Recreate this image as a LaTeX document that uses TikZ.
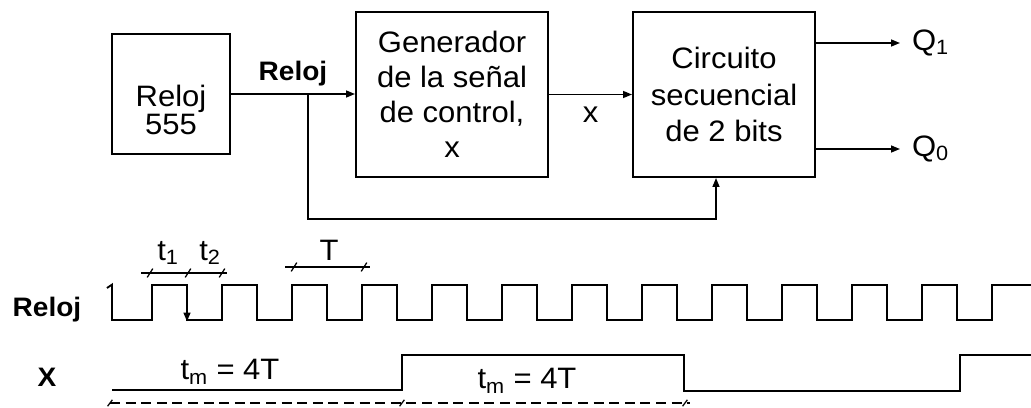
\documentclass[tikz,border=0pt]{standalone}
\usepackage{fontspec}
\setmainfont{Liberation Sans}[FakeStretch=1.05]
\usetikzlibrary{arrows.meta}

\begin{document}
\begin{tikzpicture}[line width=1.1pt,>={Triangle[length=0.22cm,width=0.17cm]},
font=\fontsize{21}{25}\selectfont,
block/.style={draw,rectangle,align=center,inner sep=0pt,line width=1.4pt},
lbl/.style={inner sep=0pt,outer sep=0pt},
qlbl/.style={inner sep=0pt,outer sep=0.3cm,anchor=west},
bold/.style={font=\fontsize{19}{23}\selectfont\bfseries},
wave/.style={line width=1.3pt,line join=miter},
tick/.style={line width=0.9pt}]

\useasboundingbox (0,0) rectangle (25.775,10.175);

\draw (4.275,7.825) node[block,minimum width=2.95cm,minimum height=3cm] (clk) {};
\draw ([yshift=-0.4cm]clk.center) node[lbl,align=center,font=\fontsize{21}{20}\selectfont] (clktxt) {Reloj\\555};
\draw (11.3,7.8125) node[block,minimum width=4.8cm,minimum height=4.125cm] (gen) {Generador\\de la señal\\de control,\\x};
\draw (18.1,7.8125) node[block,minimum width=4.55cm,minimum height=4.125cm,font=\fontsize{21}{26}\selectfont] (seq) {Circuito\\secuencial\\de 2 bits};
\draw (22.5,9.1) node[qlbl] (q1) {Q\textsubscript{1}};
\draw (22.5,6.45) node[qlbl] (q0) {Q\textsubscript{0}};

\draw[->] (clk.east) -- coordinate[pos=0.62] (split) node[lbl,bold,midway,above=0.2cm] (clklbl) {Reloj} (clk.east -| gen.west);
\draw[->] (split) -- ++(0,-3.125) -| ([xshift=-0.2cm]seq.south);
\draw[->] (gen.east) -- node[lbl,below=0.3cm] (xlbl) {x} (seq.west);
\draw[->] (seq.east |- q1) -- (q1.west);
\draw[->] (seq.east |- q0) -- (q0.west);

\draw (1.175,2.425) node[lbl,bold] (relojw) {Reloj};
\draw (1.175,0.75) node[lbl,bold] (xw) {X};

\draw[wave] (2.675,2.975) -- (2.8,3.06) -- (2.8,2.175)
  \foreach \k in {0,...,11} {-- ({3.8+1.75*\k},2.175) -- ++(0,0.875) -- ++(0.875,0) -- ++(0,-0.875)}
  -- (24.8,2.175) -- (24.8,3.05) -- (25.8,3.05);
\draw[->,wave] (4.675,3.05) -- (4.675,2.14);

\draw[tick,line width=1.2pt] (3.525,3.35) -- (5.675,3.35);
\foreach \x in {3.75,4.7,5.55} \draw[tick] (\x-0.07,3.24) -- (\x+0.07,3.46);
\draw (4.2,3.85) node[lbl] (t1) {t\textsubscript{1}};
\draw (5.25,3.85) node[lbl] (t2) {t\textsubscript{2}};

\draw[tick,line width=1.2pt] (7.125,3.5) -- (9.25,3.5);
\foreach \x in {7.35,9.1} \draw[tick] (\x-0.07,3.39) -- (\x+0.07,3.61);
\draw (8.225,3.92) node[lbl] (per) {T};

\draw[wave,line width=1.1pt] (2.8,0.425) -- (10.05,0.425) -- (10.05,1.3) -- (17.1,1.3) -- (17.1,0.4) -- (24.0,0.4) -- (24.0,1.3) -- (25.8,1.3);
\draw (5.75,0.875) node[lbl] (tm1) {t\textsubscript{m} = 4T};
\draw (13.175,0.65) node[lbl] (tm2) {t\textsubscript{m} = 4T};

\draw[line width=1.1pt,dash pattern=on 0.25cm off 0.14cm] (2.75,0.1) -- (17.25,0.1);
\foreach \x in {2.75,10.05,17.125} \draw[tick] (\x-0.06,0.02) -- (\x+0.06,0.18);
\end{tikzpicture}
\end{document}
